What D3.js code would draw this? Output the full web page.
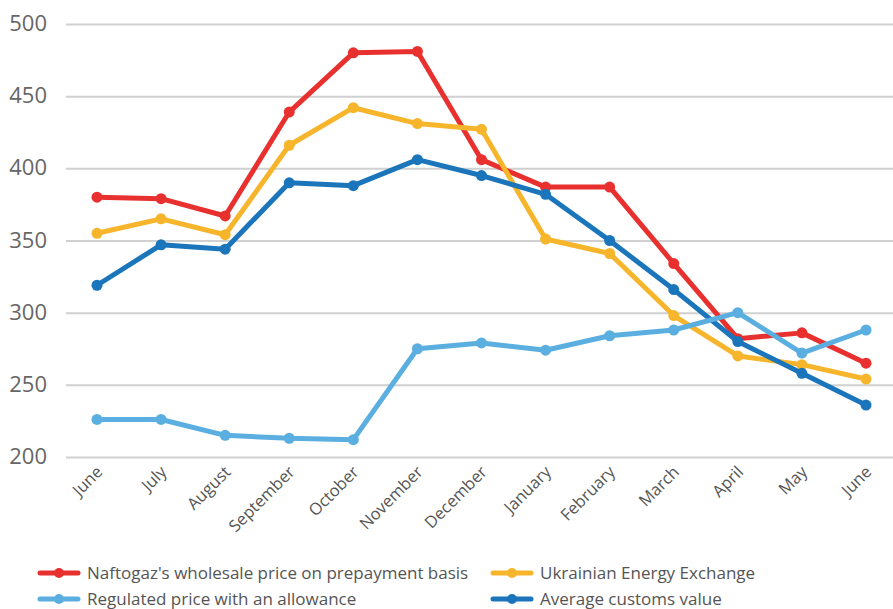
<!DOCTYPE html>
<html>
<head>
<meta charset="utf-8">
<script src="https://cdn.jsdelivr.net/npm/d3@7"></script>
<style>
  body { margin: 0; background: #fff; }
  svg { display: block; }
</style>
</head>
<body>
<script>
const months = ["June", "July", "August", "September", "October", "November", "December",
  "January", "February", "March", "April", "May", "June"];
const naftogaz = [380, 379, 367, 439, 480, 481, 406, 387, 387, 334, 282, 286, 265];
const exchange = [355, 365, 354, 416, 442, 431, 427, 351, 341, 298, 270, 264, 254];
const customs = [319, 347, 344, 390, 388, 406, 395, 382, 350, 316, 280, 258, 236];
const regulated = [226, 226, 215, 213, 212, 275, 279, 274, 284, 288, 300, 272, 288];
const yTicks = [200, 250, 300, 350, 400, 450, 500];

const series = [
  { name: "Naftogaz's wholesale price on prepayment basis", values: naftogaz, color: "#e8312f" },
  { name: "Ukrainian Energy Exchange", values: exchange, color: "#f7b52c" },
  { name: "Average customs value", values: customs, color: "#1a75bb" },
  { name: "Regulated price with an allowance", values: regulated, color: "#5aafe0" },
];
const legendOrder = [0, 1, 3, 2];

const width = 893, height = 609;
const margin = { top: 24, right: 0, bottom: 152, left: 66 };

const svg = d3.select("body").append("svg")
  .attr("width", width).attr("height", height);

const x = d3.scalePoint().domain(d3.range(months.length)).range([97, 866]);
const y = d3.scaleLinear().domain([200, 500]).range([height - margin.bottom, margin.top]);

// y axis + grid
const yAxis = svg.append("g")
  .attr("transform", `translate(${margin.left},0)`)
  .call(d3.axisLeft(y).tickValues(yTicks).tickSize(-(width - margin.left)));
yAxis.select(".domain").remove();
yAxis.selectAll(".tick line").attr("stroke", "#d0d0d0").attr("stroke-width", 2);
yAxis.selectAll(".tick text")
  .attr("fill", "#666").attr("font-size", 22)
  .attr("font-family", "'Open Sans', sans-serif")
  .attr("x", -19).attr("dy", "0.3em");

// x axis labels
const xAxis = svg.append("g")
  .attr("transform", `translate(0,${height - margin.bottom})`)
  .call(d3.axisBottom(x).tickSize(0).tickFormat(i => months[i]));
xAxis.select(".domain").remove();
xAxis.selectAll(".tick text")
  .attr("fill", "#555").attr("font-size", 16.5)
  .attr("font-family", "'Open Sans', sans-serif")
  .attr("text-anchor", "end")
  .attr("dy", 0).attr("y", 0)
  .attr("transform", "translate(6,16) rotate(-45)");

const line = d3.line().x((d, i) => x(i)).y(d => y(d));

series.forEach(s => {
  const g = svg.append("g");
  g.append("path")
    .attr("d", line(s.values))
    .attr("fill", "none")
    .attr("stroke", s.color)
    .attr("stroke-width", 5)
    .attr("stroke-linejoin", "round");
  g.selectAll("circle").data(s.values).join("circle")
    .attr("cx", (d, i) => x(i)).attr("cy", d => y(d))
    .attr("r", 5.5).attr("fill", s.color);
});

// legend
const legend = svg.append("g");
const legPos = [[40, 573], [493, 573], [40, 599], [493, 599]];
legendOrder.forEach((si, k) => {
  const s = series[si];
  const [lx, ly] = legPos[k];
  const g = legend.append("g").attr("transform", `translate(${lx},${ly})`);
  g.append("line").attr("x1", 0).attr("x2", 38).attr("y1", 0).attr("y2", 0)
    .attr("stroke", s.color).attr("stroke-width", 5).attr("stroke-linecap", "round");
  g.append("circle").attr("cx", 19).attr("cy", 0).attr("r", 5).attr("fill", s.color);
  g.append("text").attr("x", 47).attr("y", 0).attr("dy", "0.35em")
    .attr("fill", "#555").attr("font-size", 17)
    .attr("font-family", "'Open Sans', sans-serif")
    .text(s.name);
});
</script>
</body>
</html>
